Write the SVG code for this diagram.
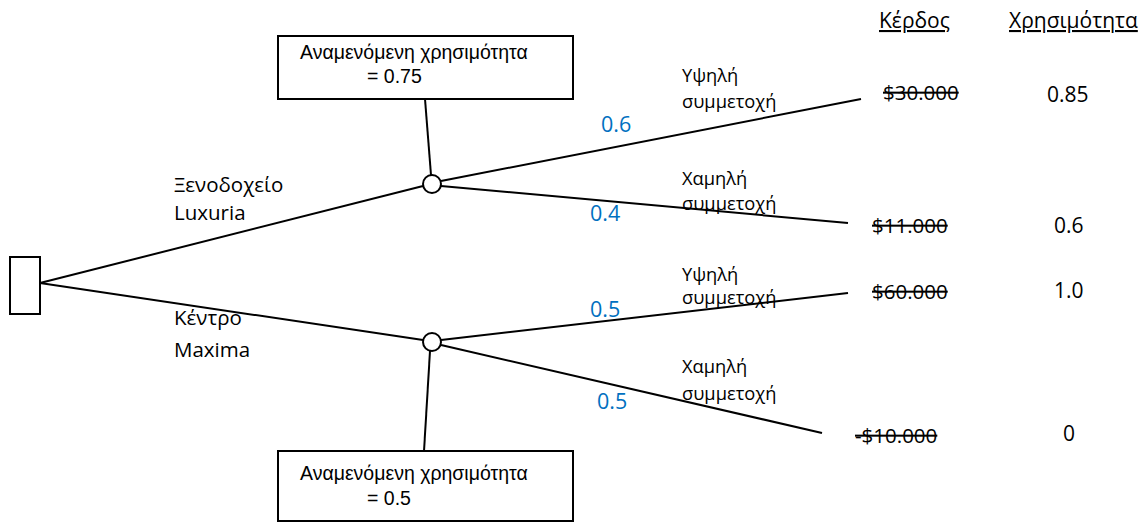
<svg xmlns="http://www.w3.org/2000/svg" width="1146" height="523" viewBox="0 0 1146 523">
  <style>
    .edge { stroke: #000; stroke-width: 2; fill: none; }
    .node { stroke: #000; stroke-width: 2; fill: #fff; }
    .box { stroke: #000; stroke-width: 2; fill: #fff; }
    .boxtxt { font-family: "Liberation Sans", Arial, sans-serif; font-size: 19.5px; fill: #000; }
    .lbl { font-family: "Open Sans", "Noto Sans", sans-serif; font-size: 18.3px; fill: #000; }
    .opt { font-family: "Open Sans", "Noto Sans", sans-serif; font-size: 20.5px; fill: #000; }
    .prob { font-family: "Open Sans", "Noto Sans", sans-serif; font-size: 21.5px; fill: #0070C0; }
    .pay { font-family: "Open Sans", "Noto Sans", sans-serif; font-size: 20.5px; fill: #000; text-decoration: line-through; }
    .util { font-family: "Open Sans", "Noto Sans", sans-serif; font-size: 21px; fill: #000; }
    .head { font-family: "Open Sans", "Noto Sans", sans-serif; font-size: 21px; fill: #000; text-decoration: underline; }
  </style>

  <!-- branches -->
  <g id="connectors">
    <line class="edge" x1="40" y1="283" x2="423" y2="186"/>
    <line class="edge" x1="40" y1="283" x2="423" y2="340"/>
    <line class="edge" x1="441" y1="181" x2="861" y2="99"/>
    <line class="edge" x1="441" y1="186" x2="848" y2="223"/>
    <line class="edge" x1="441" y1="340" x2="848" y2="293"/>
    <line class="edge" x1="441" y1="345" x2="822" y2="433"/>
    <line class="edge" x1="425" y1="99" x2="431" y2="175"/>
    <line class="edge" x1="430" y1="351" x2="424" y2="451"/>
  </g>

  <!-- decision node -->
  <g id="decision">
    <rect class="node" x="10" y="257" width="30" height="57"/>
  </g>

  <!-- chance nodes -->
  <g id="chance-luxuria">
    <circle class="node" cx="432" cy="184" r="9"/>
  </g>
  <g id="chance-maxima">
    <circle class="node" cx="432" cy="342" r="9"/>
  </g>

  <!-- expected utility boxes -->
  <g id="eu-luxuria">
    <rect class="box" x="278" y="36" width="295" height="63"/>
    <text class="boxtxt" x="300" y="59">Αναμενόμενη χρησιμότητα</text>
    <text class="boxtxt" x="367" y="83">= 0.75</text>
  </g>
  <g id="eu-maxima">
    <rect class="box" x="278" y="451" width="295" height="70"/>
    <text class="boxtxt" x="300" y="480">Αναμενόμενη χρησιμότητα</text>
    <text class="boxtxt" x="367" y="505">= 0.5</text>
  </g>

  <!-- option labels -->
  <g id="option-labels">
    <text class="opt" x="174" y="192">Ξενοδοχείο</text>
    <text class="opt" x="174" y="220">Luxuria</text>
    <text class="opt" x="174" y="325">Κέντρο</text>
    <text class="opt" x="174" y="357">Maxima</text>
  </g>

  <!-- probabilities -->
  <g id="probabilities">
    <text class="prob" x="601" y="132">0.6</text>
    <text class="prob" x="590" y="221">0.4</text>
    <text class="prob" x="590" y="317">0.5</text>
    <text class="prob" x="597" y="409">0.5</text>
  </g>

  <!-- outcome labels -->
  <g id="outcome-labels">
    <text class="lbl" x="682" y="82">Υψηλή</text>
    <text class="lbl" x="682" y="108">συμμετοχή</text>
    <text class="lbl" x="682" y="185">Χαμηλή</text>
    <text class="lbl" x="682" y="210">συμμετοχή</text>
    <text class="lbl" x="682" y="281">Υψηλή</text>
    <text class="lbl" x="682" y="304">συμμετοχή</text>
    <text class="lbl" x="682" y="373">Χαμηλή</text>
    <text class="lbl" x="682" y="400">συμμετοχή</text>
  </g>

  <!-- payoff and utility columns -->
  <g id="columns">
    <text class="head" x="879" y="28">Κέρδος</text>
    <text class="head" x="1009" y="28">Χρησιμότητα</text>
    <text class="pay" x="883" y="100">$30.000</text>
    <text class="pay" x="872" y="233">$11.000</text>
    <text class="pay" x="872" y="299">$60.000</text>
    <text class="pay" x="855" y="443">-$10.000</text>
    <text class="util" x="1047" y="102">0.85</text>
    <text class="util" x="1054" y="233">0.6</text>
    <text class="util" x="1054" y="298">1.0</text>
    <text class="util" x="1063" y="441">0</text>
  </g>
</svg>
